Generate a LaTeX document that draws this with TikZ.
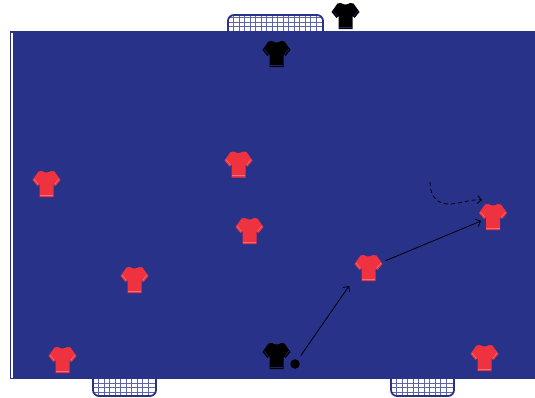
\documentclass[tikz,border=0pt]{standalone}
\usetikzlibrary{arrows.meta}
\definecolor{pitchblue}{RGB}{41,50,137}
\definecolor{shirtred}{RGB}{238,50,64}
\definecolor{redcuff}{RGB}{242,110,120}
\tikzset{
  netframe/.style={draw=pitchblue, line width=1.8pt, rounded corners=6pt},
  netline/.style={draw=pitchblue!75, line width=0.8pt},
  run/.style={->, black, line width=0.8pt},
  dribble/.style={run, dash pattern=on 4pt off 3pt},
  pics/tshirt/.style n args={2}{code={
    \fill[#1] (-4.5,-13) .. controls (-2,-11) and (2,-11) .. (4.5,-13)
      -- (8,-12.5) -- (14,-4) -- (9,2) -- (7,0) -- (7,13) -- (-7,13)
      -- (-7,0) -- (-9,2) -- (-14,-4) -- (-8,-12.5) -- cycle;
    \draw[#2, line width=0.7pt] (-6.7,11) -- (6.7,11);
    \draw[#2, line width=0.6pt] (-12.5,-5) -- (-8,0.5) (12.5,-5) -- (8,0.5);
  }}
}
\begin{document}
\begin{tikzpicture}[x=1pt, y=-1pt, >={Straight Barb[length=4pt,width=8pt]}]
  \useasboundingbox (0,0) rectangle (535,397);
  \fill[white] (0,0) rectangle (535,397);
  % goals
  \begin{scope}
    \clip[rounded corners=6pt] (228,40) -- (228,15) -- (323,15) -- (323,40) -- cycle;
    \foreach \x in {233.5,239,...,320} \draw[netline] (\x,12) -- (\x,32);
    \foreach \y in {17.5,22,26.5,31} \draw[netline] (226,\y) -- (325,\y);
  \end{scope}
  \draw[netframe] (228,40) -- (228,15) -- (323,15) -- (323,40);
  \foreach \gx in {93,391} {
    \begin{scope}[shift={(\gx,0)}]
      \clip[rounded corners=6pt] (0,370) -- (0,396) -- (63,396) -- (63,370) -- cycle;
      \foreach \x in {5.5,11,...,60} \draw[netline] (\x,378) -- (\x,397);
      \foreach \y in {383,387.5,392} \draw[netline] (-2,\y) -- (65,\y);
    \end{scope}
    \draw[netframe, shift={(\gx,0)}] (0,370) -- (0,396) -- (63,396) -- (63,370);
  }
  % pitch
  \fill[pitchblue] (9.5,31) rectangle (535,379);
  \draw[white, line width=1.6pt] (12,33) -- (12,378);
  % players
  \foreach \px/\py [count=\i] in {238.5/164.5, 46.5/184, 249.5/231, 134.5/280, 368.5/268, 493/217, 62.5/360, 484.5/358}
    \pic (red\i) at (\px,\py) {tshirt={shirtred}{redcuff}};
  \foreach \px/\py [count=\i] in {345.5/16, 276.5/54, 276.5/356}
    \pic (black\i) at (\px,\py) {tshirt={black}{pitchblue!70!black}};
  \node[circle, fill=black, inner sep=0pt, minimum size=9.5pt] (ball) at (295,364) {};
  \coordinate (passer) at (368,268);
  \coordinate (passend) at (349,286);
  \coordinate (shotend) at (481,221);
  \coordinate (dribblestart) at (430,182);
  \coordinate (dribbleend) at (482,200);
  % movements
  \draw[run, shorten <=5pt] (ball) -- (passend);
  \draw[run, shorten <=19pt] (passer) -- (shotend);
  \draw[dribble] (dribblestart) .. controls (430,197) and (438,205) .. (451,204)
    .. controls (462,203) and (472,199) .. (dribbleend);
\end{tikzpicture}
\end{document}
